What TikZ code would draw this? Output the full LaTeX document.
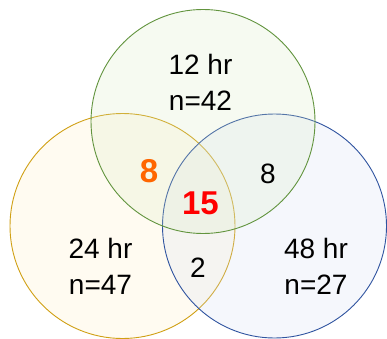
\documentclass[tikz,border=0pt]{standalone}
\usepackage{fontspec}
\setmainfont{Liberation Sans}
\definecolor{gstroke}{RGB}{98,148,62}
\definecolor{ystroke}{RGB}{208,160,20}
\definecolor{bstroke}{RGB}{48,84,160}
\definecolor{gfill}{RGB}{215,235,195}
\definecolor{yfill}{RGB}{255,238,195}
\definecolor{bfill}{RGB}{210,222,245}
\definecolor{orangetxt}{RGB}{255,102,0}
\definecolor{redtxt}{RGB}{255,0,0}
\tikzset{
  setcircle/.style={draw=#1stroke, fill=#1fill, fill opacity=0.22, line width=0.9pt},
  lbl/.style={anchor=base, inner sep=0pt, font=\fontsize{28}{34}\selectfont},
  biglbl/.style={anchor=base, inner sep=0pt, font=\fontsize{33}{38}\selectfont\bfseries},
}
\begin{document}
\begin{tikzpicture}[x=1pt,y=1pt]
\useasboundingbox (0,0) rectangle (387,338);
\fill[white] (0,0) rectangle (387,338);
\draw[setcircle=y] (122.5,112) circle (112.5);
\draw[setcircle=b] (274.5,112) circle (112);
\draw[setcircle=g] (203,216.5) circle (112);
\node[lbl] (t12a) at (200.5,263.7) {12 hr};
\node[lbl] (t12b) at (200.5,227.3) {n=42};
\node[lbl] (t24a) at (100.5,79.5) {24 hr};
\node[lbl] (t24b) at (100.5,43.5) {n=47};
\node[lbl] (t48a) at (316,79.5) {48 hr};
\node[lbl] (t48b) at (316,43.5) {n=27};
\node[lbl] (two) at (198,61) {2};
\node[lbl] (eightb) at (268,155) {8};
\node[biglbl, text=orangetxt] (eighto) at (149,156) {8};
\node[biglbl, text=redtxt] (fifteen) at (200.5,123.7) {15};
\end{tikzpicture}
\end{document}
